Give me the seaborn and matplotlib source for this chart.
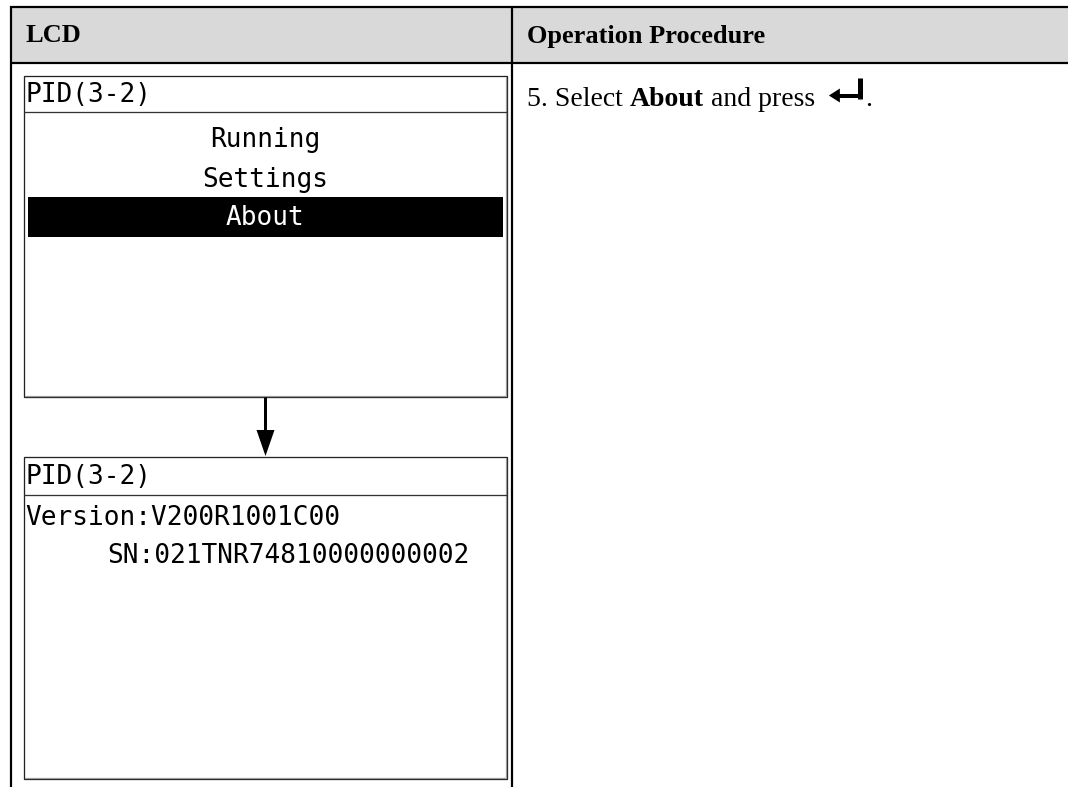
import matplotlib
matplotlib.use("Agg")
import matplotlib.pyplot as plt
import seaborn as sns
from matplotlib.patches import Rectangle, Polygon

sns.set_theme(style="white")
plt.rcParams["font.family"] = ["DejaVu Sans"]

# ---- content ----
header_labels = ["LCD", "Operation Procedure"]
screen_title = "PID(3-2)"
menu_items = ["Running", "Settings", "About"]
selected_item = "About"
about_lines = ["Version:V200R1001C00", "SN:021TNR74810000000002"]
step_parts = [("5. Select ", "normal"), ("About", "bold"), (" and press", "normal")]

W, H = 1068, 787
fig = plt.figure(figsize=(W / 100, H / 100), dpi=100)
ax = fig.add_axes([0, 0, 1, 1])
ax.set_xlim(0, W)
ax.set_ylim(H, 0)
ax.axis("off")

px = 72 / 100  # one pixel in points
mono = "DejaVu Sans Mono"
serif = "Liberation Serif"

# ---- table frame ----
ax.add_patch(Rectangle((11, 7), W - 11, 56, facecolor="#D9D9D9", edgecolor="none", zorder=0))
tab_lw = 2.2 * px
ax.plot([10, W], [7, 7], color="black", lw=tab_lw, solid_capstyle="butt")
ax.plot([10, W], [63, 63], color="black", lw=tab_lw, solid_capstyle="butt")
ax.plot([11, 11], [6, H], color="black", lw=tab_lw, solid_capstyle="butt")
ax.plot([512, 512], [6, H], color="black", lw=tab_lw, solid_capstyle="butt")

ax.text(25, 36, header_labels[0], family=serif, fontweight="bold", fontsize=19,
        va="center", ha="left", color="black")
ax.text(527, 36, header_labels[1], family=serif, fontweight="bold", fontsize=19,
        va="center", ha="left", color="black")


def lcd_box(y0, y1, ysep):
    x0, x1 = 24, 507
    # grey shadow inside right/bottom
    ax.plot([x1 - 1.5, x1 - 1.5], [y0 + 1, y1 - 1.5], color="#9A9A9A", lw=1.2 * px)
    ax.plot([x0 + 1, x1 - 1.5], [y1 - 1.5, y1 - 1.5], color="#9A9A9A", lw=1.2 * px)
    ax.add_patch(Rectangle((x0, y0), x1 - x0, y1 - y0, facecolor="none",
                           edgecolor="#222222", lw=1.3 * px))
    ax.plot([x0, x1], [ysep, ysep], color="#333333", lw=1.3 * px)
    ax.text(x0 + 1, (y0 + ysep) / 2 + 1, screen_title, family=mono, fontsize=18.8,
            va="center", ha="left", color="black")


# ---- first screen ----
lcd_box(76, 397, 112)
menu_y = [140, 180, 218]
for item, yy in zip(menu_items, menu_y):
    if item == selected_item:
        ax.add_patch(Rectangle((28, 197), 475, 40, facecolor="black", edgecolor="none"))
        col = "white"
    else:
        col = "black"
    ax.text(265, yy, item, family=mono, fontsize=18.8, va="center", ha="center", color=col)

# ---- arrow ----
ax.plot([265, 265], [397, 432], color="black", lw=3 * px, solid_capstyle="butt")
ax.add_patch(Polygon([(256.5, 430), (274.5, 430), (265.5, 456)], closed=True,
                     facecolor="black", edgecolor="none"))

# ---- second screen ----
lcd_box(457, 779, 495)
ax.text(25, 518, about_lines[0], family=mono, fontsize=18.8, va="center", ha="left", color="black")
ax.text(107, 556, about_lines[1], family=mono, fontsize=18.8, va="center", ha="left", color="black")

# ---- operation procedure text ----
fig.canvas.draw()
renderer = fig.canvas.get_renderer()
inv = ax.transData.inverted()
x = 527
ybase = 106
for txt, wt in step_parts:
    t = ax.text(x, ybase, txt, family=serif, fontweight=wt, fontsize=20,
                va="baseline", ha="left", color="black")
    bb = t.get_window_extent(renderer=renderer)
    x = inv.transform((bb.x1, bb.y0))[0]

# enter key symbol
sx = x + 14
ax.plot([sx + 31, sx + 31], [78, 98.5], color="black", lw=5 * px, solid_capstyle="butt")
ax.plot([sx + 8, sx + 33.5], [95.5, 95.5], color="black", lw=4 * px, solid_capstyle="butt")
ax.add_patch(Polygon([(sx, 95.5), (sx + 11, 88.5), (sx + 11, 102.5)], closed=True,
                     facecolor="black", edgecolor="none"))
ax.text(sx + 36, ybase, ".", family=serif, fontsize=20, va="baseline", ha="left", color="black")

fig.savefig("out.png", dpi=100, facecolor="white")
